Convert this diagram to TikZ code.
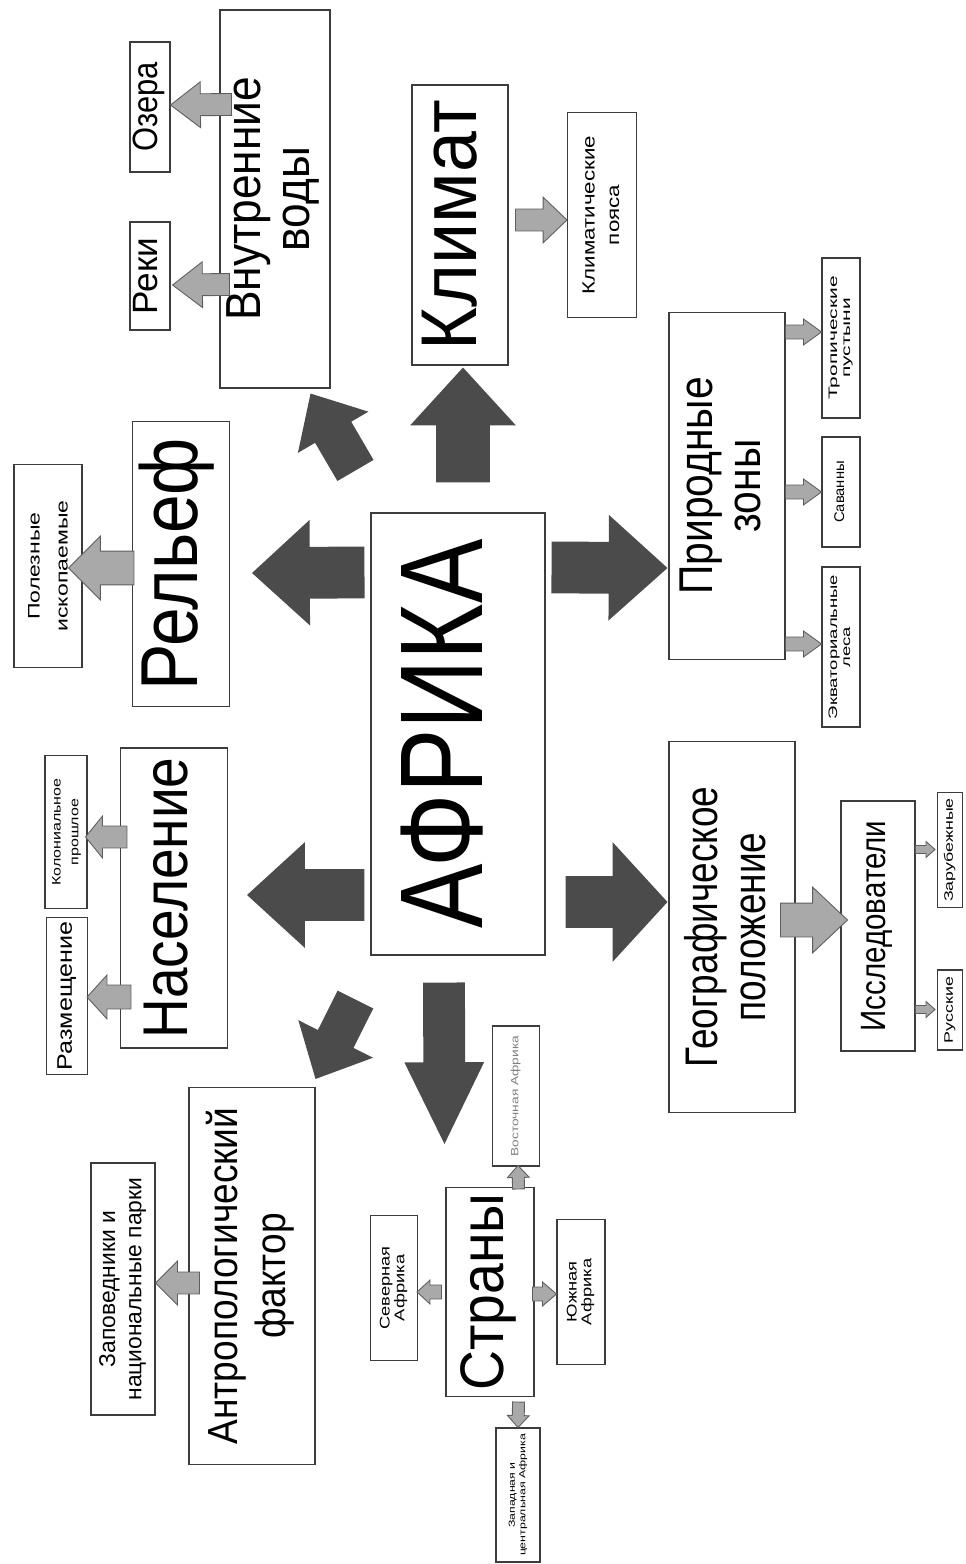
\documentclass[tikz,border=0pt]{standalone}
\usepackage{fontspec}
\setmainfont{Liberation Sans}
\usepackage{graphicx}
\usetikzlibrary{calc}
\definecolor{boxline}{HTML}{3C3C3C}
\definecolor{arrowdark}{HTML}{4B4B4B}
\definecolor{arrowgrey}{HTML}{A9A9A9}
\definecolor{arrowedge}{HTML}{5E5E5E}
\newcommand{\pxl}{0.5669pt}
\newcommand{\vlab}[4]{\rotatebox{90}{\scalebox{#3}[1]{\fontsize{#1}{#2}\selectfont\begin{tabular}{@{}c@{}}#4\end{tabular}}}}
\newcommand{\fatarrow}[6]{%
  \path[#1] let \p1=(#2), \p2=(#3), \n1={atan2(\y2-\y1,\x2-\x1)}, \n2={veclen(\x2-\x1,\y2-\y1)} in
    [shift={(\p1)}, rotate=\n1]
    (0pt,{-#4*\pxl}) -- ({\n2*1pt-#6*\pxl},{-#4*\pxl}) -- ({\n2*1pt-#6*\pxl},{-#5*\pxl})
    -- ({\n2*1pt},0pt) -- ({\n2*1pt-#6*\pxl},{#5*\pxl}) -- ({\n2*1pt-#6*\pxl},{#4*\pxl})
    -- (0pt,{#4*\pxl}) -- cycle;}

\begin{document}
\begin{tikzpicture}[x=0.02cm, y=-0.02cm,
  box/.style={draw=boxline, line width=0.6pt, fill=white, inner sep=0pt},
  wh/.style 2 args={minimum width=#1*0.02cm, minimum height=#2*0.02cm},
  darkarrow/.style={fill=arrowdark},
  greyarrow/.style={fill=arrowgrey, draw=arrowedge, line width=0.5pt, line join=miter}]
\useasboundingbox (0,0) rectangle (966,1564);

\node[box, wh={174}{442}] (afrika) at (458,734) {\vlab{67}{70}{0.82}{АФРИКА}};
\node[box, wh={96}{280}] (klimat) at (460,225) {\vlab{45}{48}{0.93}{Климат}};
\node[box, wh={69}{205}] (poyasa) at (602,215) {\vlab{10}{14}{1.27}{Климатические\\пояса}};
\node[box, wh={110}{378}] (vody) at (275,199) {\vlab{28}{28}{0.9}{Внутренние\\воды}};
\node[box, wh={40}{130}] (ozera) at (150,107) {\vlab{20}{22}{0.88}{Озера}};
\node[box, wh={40}{108}] (reki) at (150,276) {\vlab{20}{22}{1.0}{Реки}};
\node[box, wh={97}{285}] (relief) at (181,564) {\vlab{46}{48}{0.86}{Рельеф}};
\node[box, wh={68}{203}] (iskop) at (48,566) {\vlab{9.5}{16}{1.38}{Полезные\\ископаемые}};
\node[box, wh={107}{300}] (naselenie) at (174,898) {\vlab{36}{38}{0.87}{Население}};
\node[box, wh={42}{153}] (kolon) at (66,832) {\vlab{7}{10}{1.3}{Колониальное\\прошлое}};
\node[box, wh={41}{157}] (razm) at (67,996) {\vlab{12}{14}{1.19}{Размещение}};
\node[box, wh={126}{377}] (antrop) at (252,1276) {\vlab{24}{27}{0.88}{Антропологический\\фактор}};
\node[box, wh={64}{252}] (zapov) at (123,1289) {\vlab{13}{15}{1.0}{Заповедники и\\национальные парки}};
\node[box, wh={88}{209}] (strany) at (490,1292) {\vlab{35}{38}{0.9}{Страны}};
\node[box, wh={47}{145}] (sever) at (394,1288) {\vlab{8}{8.5}{1.3}{Северная\\Африка}};
\node[box, wh={48}{145}] (yug) at (581,1292) {\vlab{8}{8.5}{1.3}{Южная\\Африка}};
\node[box, wh={47}{140}, text=gray] (vostok) at (516,1096) {\vlab{6}{7}{1.3}{Восточная Африка}};
\node[box, wh={44}{134}] (zapad) at (518,1495) {\vlab{5}{6}{1.4}{Западная и\\центральная Африка}};
\node[box, wh={116}{347}] (zony) at (727,486) {\vlab{27}{27}{0.86}{Природные\\зоны}};
\node[box, wh={38}{160}] (tropik) at (841,338) {\vlab{7}{7.5}{1.7}{Тропические\\пустыни}};
\node[box, wh={38}{110}] (savanny) at (841,492) {\vlab{8}{9}{1.05}{Саванны}};
\node[box, wh={38}{160}] (ekvator) at (841,647) {\vlab{7}{7.5}{1.5}{Экваториальные\\леса}};
\node[box, wh={126}{371}] (geo) at (732,927) {\vlab{26}{27}{0.81}{Географическое\\положение}};
\node[box, wh={74}{250}] (issled) at (878,926) {\vlab{20}{22}{0.84}{Исследователи}};
\node[box, wh={25}{115}] (zarub) at (950,850) {\vlab{7}{8}{1.45}{Зарубежные}};
\node[box, wh={25}{80}] (russ) at (950,1010) {\vlab{7}{8}{1.45}{Русские}};

\fatarrow{darkarrow}{$(afrika.north)+(5,-30)$}{$(klimat.south)+(3,2)$}{27}{53}{58}
\fatarrow{darkarrow}{$(afrika.north west)+(-15,-42)$}{$(vody.south east)+(-20,5)$}{21}{41}{45}
\fatarrow{darkarrow}{$(afrika.north west)+(-6,60)$}{$(relief.east)+(22,9)$}{26}{53}{58}
\fatarrow{darkarrow}{$(afrika.north east)+(6,55)$}{$(zony.west)+(-1,82)$}{26}{53}{59}
\fatarrow{darkarrow}{$(afrika.west)+(-6,161)$}{$(naselenie.east)+(19,-3)$}{26}{53}{58}
\fatarrow{darkarrow}{$(afrika.east)+(20,168)$}{$(geo.west)+(-1,-25)$}{26}{60}{55}
\fatarrow{darkarrow}{$(afrika.south)+(-14,27)$}{$(strany.north west)+(-1,-43)$}{21}{40}{82}
\fatarrow{darkarrow}{$(afrika.south west)+(-15,44)$}{$(antrop.north east)+(0,-8)$}{20}{42}{45}

\fatarrow{greyarrow}{$(klimat.east)+(7,-5)$}{$(poyasa.west)+(0,5)$}{11}{23}{24}
\fatarrow{greyarrow}{$(vody.north west)+(12,95)$}{$(ozera.east)+(0,-2)$}{11}{23}{30}
\fatarrow{greyarrow}{$(vody.north west)+(10,275)$}{$(reki.east)+(2,9)$}{11}{23}{30}
\fatarrow{greyarrow}{$(relief.west)+(2,4)$}{$(iskop.east)+(-14,2)$}{17}{32}{32}
\fatarrow{greyarrow}{$(naselenie.west)+(7,-61)$}{$(kolon.east)+(-2,5)$}{11}{21}{17}
\fatarrow{greyarrow}{$(naselenie.west)+(11,99)$}{$(razm.east)+(-1,1)$}{12}{22}{20}
\fatarrow{greyarrow}{$(antrop.west)+(11,7)$}{$(zapov.east)+(0,-6)$}{11}{22}{22}
\fatarrow{greyarrow}{$(geo.east)+(-15,-7)$}{$(issled.west)+(7,-6)$}{17}{33}{35}
\fatarrow{greyarrow}{$(strany.west)+(-4,0)$}{$(sever.east)+(-1,4)$}{7}{12}{13}
\fatarrow{greyarrow}{$(strany.east)+(-2,2)$}{$(yug.west)+(0,2)$}{7}{12}{14}
\fatarrow{greyarrow}{$(strany.north east)+(-16,2)$}{$(vostok.south)+(2,-1)$}{6}{11}{12}
\fatarrow{greyarrow}{$(strany.south east)+(-16,5)$}{zapad.north}{6}{11}{12}
\foreach \zone/\dy in {tropik/20, savanny/180, ekvator/332}
  \fatarrow{greyarrow}{$(zony.north east)+(0,\dy)$}{$(\zone.west |- zony.north east)+(0,\dy)$}{7}{13}{18};
\foreach \who/\dy in {zarub/49, russ/209}
  \fatarrow{greyarrow}{$(issled.north east)+(0,\dy)$}{$(\who.west |- issled.north east)+(-2,\dy)$}{4}{8}{9};
\end{tikzpicture}
\end{document}
